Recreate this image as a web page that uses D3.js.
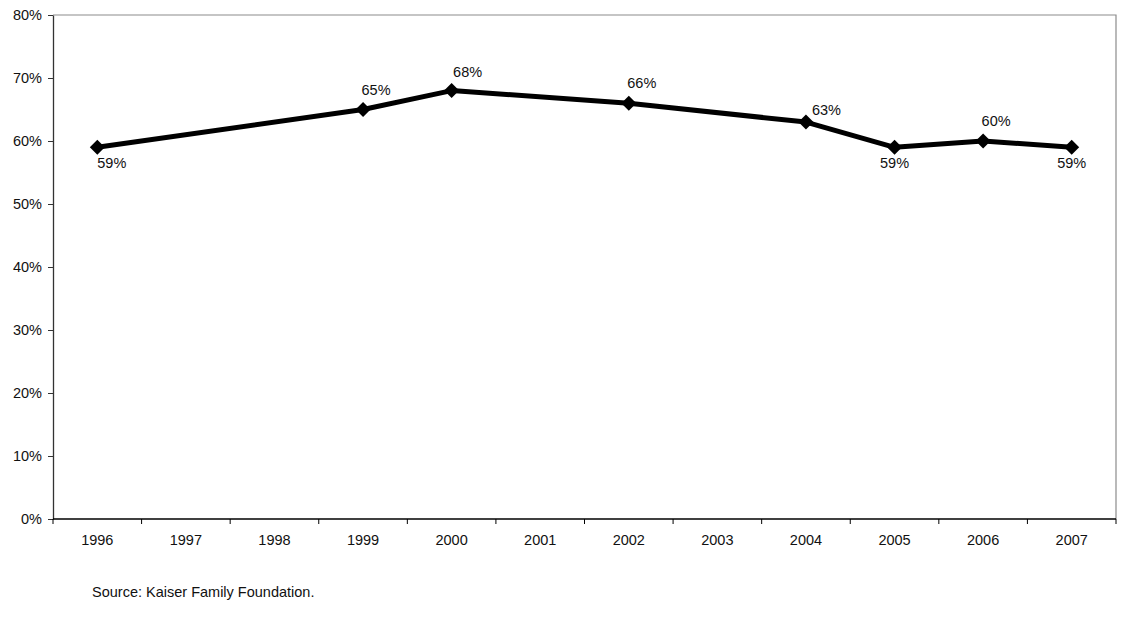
<!DOCTYPE html>
<html>
<head>
<meta charset="utf-8">
<script src="https://cdn.jsdelivr.net/npm/d3@7/dist/d3.min.js"></script>
<style>
  html, body { margin: 0; padding: 0; background: #fff; }
  svg { display: block; font-family: "Liberation Sans", Arial, sans-serif; }
</style>
</head>
<body>
<svg id="chart" width="1124" height="627"></svg>
<script>
// Share of the year (1996–2007)
const years = ["1996", "1997", "1998", "1999", "2000", "2001", "2002", "2003", "2004", "2005", "2006", "2007"];
const pointYears = ["1996", "1999", "2000", "2002", "2004", "2005", "2006", "2007"];
const shares = [59, 65, 68, 66, 63, 59, 60, 59];
const yTicks = [0, 10, 20, 30, 40, 50, 60, 70, 80];
const labelPlacement = ["belowRight", "above", "aboveRight", "above", "right", "below", "above", "below"];
const sourceNote = "Source: Kaiser Family Foundation.";

const svg = d3.select("#chart");
const margin = { left: 53, right: 8, top: 15, bottom: 108 };
const W = 1124, H = 627;
const x0 = margin.left, x1 = W - margin.right;
const y0 = H - margin.bottom, y1 = margin.top;

const x = d3.scaleBand().domain(years).range([x0, x1]);
const y = d3.scaleLinear().domain([0, 80]).range([y0, y1]);

// Plot frame: top and right edges in grey
svg.append("path")
  .attr("d", `M${x0},${y1}H${x1}V${y0}`)
  .attr("fill", "none").attr("stroke", "#8c8c8c").attr("stroke-width", 1.2);

// Y axis
const yAxis = svg.append("g")
  .attr("transform", `translate(${x0},0)`)
  .call(d3.axisLeft(y).tickValues(yTicks).tickFormat(d => d + "%").tickSize(5).tickSizeOuter(0));
yAxis.select(".domain").attr("stroke", "#333").attr("stroke-width", 1.3);
yAxis.selectAll(".tick line").attr("stroke", "#333");
yAxis.selectAll(".tick text").attr("font-size", 14.5).attr("fill", "#111")
  .attr("x", -11).attr("font-family", "Liberation Sans, Arial, sans-serif");

// X axis with tick marks between categories
const xAxis = svg.append("g").attr("transform", `translate(0,${y0})`);
xAxis.append("line").attr("x1", x0).attr("x2", x1).attr("y1", 0).attr("y2", 0)
  .attr("stroke", "#000").attr("stroke-width", 1.3);
const boundaries = years.map(d => x(d)).concat([x1]);
xAxis.selectAll("line.tk").data(boundaries).join("line").attr("class", "tk")
  .attr("x1", d => d).attr("x2", d => d).attr("y1", 0).attr("y2", 5)
  .attr("stroke", "#000");
xAxis.selectAll("text").data(years).join("text")
  .attr("x", d => x(d) + x.bandwidth() / 2).attr("y", 26)
  .attr("text-anchor", "middle").attr("font-size", 14.5).attr("fill", "#111")
  .text(d => d);

// Line
const pts = pointYears.map((yr, i) => ({ yr, v: shares[i], place: labelPlacement[i] }));
const cx = d => x(d.yr) + x.bandwidth() / 2;
svg.append("path").datum(pts)
  .attr("d", d3.line().x(cx).y(d => y(d.v)))
  .attr("fill", "none").attr("stroke", "#000").attr("stroke-width", 5)
  .attr("stroke-linejoin", "round");

// Diamond markers
const r = 7.5;
svg.selectAll("path.mk").data(pts).join("path").attr("class", "mk")
  .attr("d", d => { const px = cx(d), py = y(d.v);
    return `M${px},${py - r}L${px + r},${py}L${px},${py + r}L${px - r},${py}Z`; })
  .attr("fill", "#000");

// Value labels
const place = {
  above: { dx: 13, dy: -15, anchor: "middle" },
  aboveRight: { dx: 16, dy: -14, anchor: "middle" },
  below: { dx: 0, dy: 21, anchor: "middle" },
  belowRight: { dx: 0, dy: 21, anchor: "start" },
  right: { dx: 6, dy: -7, anchor: "start" }
};
svg.selectAll("text.val").data(pts).join("text").attr("class", "val")
  .attr("x", d => cx(d) + place[d.place].dx)
  .attr("y", d => y(d.v) + place[d.place].dy)
  .attr("text-anchor", d => place[d.place].anchor)
  .attr("font-size", 14.5).attr("fill", "#111")
  .text(d => d.v + "%");

// Source note
svg.append("text").attr("x", 92).attr("y", 597)
  .attr("font-size", 14.5).attr("fill", "#111").text(sourceNote);
</script>
</body>
</html>
